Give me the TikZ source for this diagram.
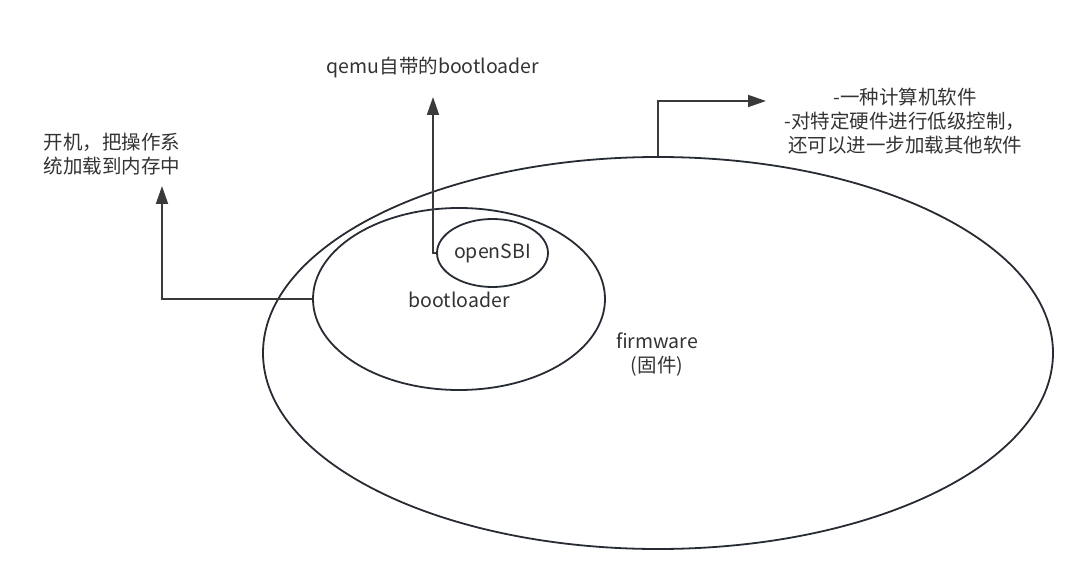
\documentclass[tikz,border=0pt]{standalone}
\usepackage{fontspec}
\setmainfont{Noto Sans CJK SC}
\usetikzlibrary{shapes.geometric,arrows.meta}
\definecolor{inkline}{HTML}{272B33}
\definecolor{inkarrow}{HTML}{3A3A3A}
\definecolor{inktext}{HTML}{333333}
\begin{document}
\begin{tikzpicture}[x=1pt, y=-1pt,
  oval/.style={ellipse, draw=inkline, line width=1.8pt, inner sep=0pt},
  txt/.style={text=inktext, font=\fontsize{19.5}{24}\selectfont, inner sep=0pt},
  link/.style={draw=inkarrow, line width=1.8pt, -{Triangle[length=18pt, width=12pt]}}]
\useasboundingbox (0,0) rectangle (1089,588);
% ellipses
\node[oval, minimum width=790, minimum height=392] (fw) at (658,353) {};
\node[oval, minimum width=292, minimum height=182] (boot) at (459,299) {};
\node[oval, minimum width=111, minimum height=68, txt] (sbi) at (492.5,253) {openSBI};
\node[txt] (bootlbl) at (459,300) {bootloader};
\node[txt, align=center] (fwlbl) at (657,355) {firmware\\(固件)};
% labels
\node[txt] (qemu) at (433,68) {qemu自带的bootloader};
\node[txt, align=left] (os) at (112,154) {开机，把操作系\\统加载到内存中};
\node[txt, align=center] (soft) at (905,121) {-一种计算机软件\\-对特定硬件进行低级控制，\\ 还可以进一步加载其他软件};
% arrows
\coordinate (qemutip) at (433,97);
\coordinate (ostip) at (162,186);
\coordinate (softtip) at (766,101);
\draw[link] (sbi.west) -| (qemutip);
\draw[link] (boot.west) -| (ostip);
\draw[link] (fw.north) |- (softtip);
\end{tikzpicture}
\end{document}
